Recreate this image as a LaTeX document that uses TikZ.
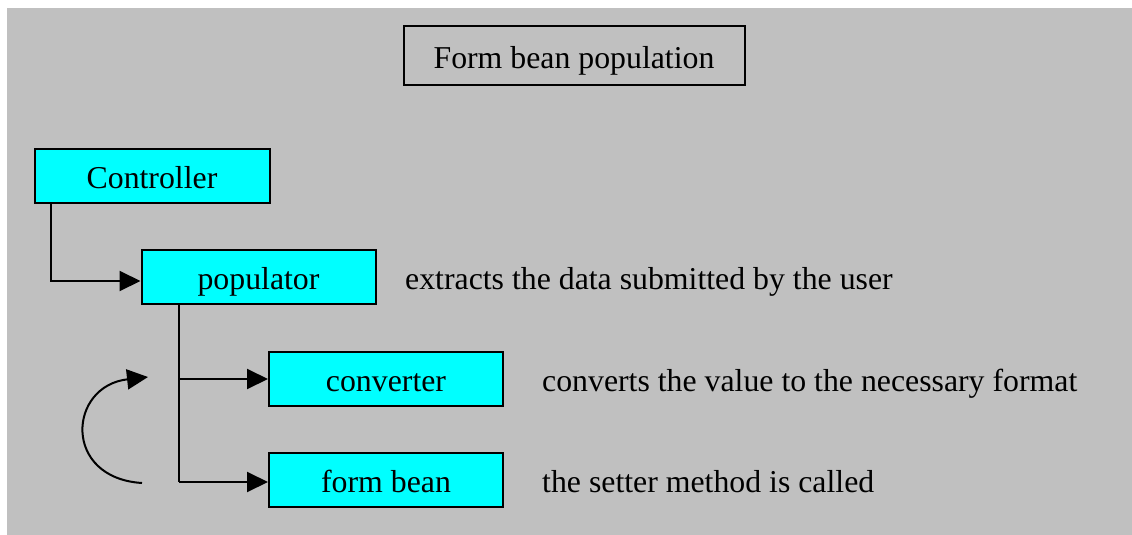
\documentclass[tikz,border=0pt]{standalone}
\usepackage{fontspec}
\setmainfont{Liberation Serif}
\usetikzlibrary{arrows.meta}
\definecolor{panelgray}{HTML}{C0C0C0}
\definecolor{boxcyan}{HTML}{00FFFF}
\begin{document}
\begin{tikzpicture}[x=1pt,y=-1pt,
  every node/.style={font=\fontsize{31.8}{38}\selectfont},
  stepbox/.style={draw=black, fill=boxcyan, line width=2pt, inner sep=0pt,
    text height=25pt, text depth=0pt, minimum width=234pt, minimum height=54pt},
  titlebox/.style={draw=black, line width=2pt, inner sep=0pt,
    text height=25pt, text depth=0pt, minimum width=341pt, minimum height=58pt},
  note/.style={anchor=base west, inner sep=0pt},
  link/.style={line width=2pt},
  flow/.style={link, -{Triangle[length=21pt,width=20pt]}}
]
\useasboundingbox (0,0) rectangle (1132,535);
% background panel
\fill[panelgray] (7,8) rectangle (1132,535);

% title
\node[titlebox] (title) at (574,55.5) {Form bean population};

% steps
\node[stepbox, minimum width=235pt] (ctrl) at (152,175.5) {Controller};
\node[stepbox] (pop) at (258.5,277) {populator};
\node[stepbox] (conv) at (386,378.5) {converter};
\node[stepbox] (fb) at (386,480) {form bean};

% notes
\node[note] (popnote) at (405,289) {extracts the data submitted by the user};
\node[note] (convnote) at (542,391) {converts the value to the necessary format};
\node[note] (fbnote) at (542,492) {the setter method is called};

% Controller -> populator
\coordinate (c1) at (51,281);
\draw[flow] (ctrl.south -| c1) -- (c1) -- (pop.west |- c1);

% populator -> converter / form bean
\coordinate (trunk) at (179,482);
\coordinate (b1) at (179,379);
\draw[link] (pop.south -| trunk) -- (trunk);
\draw[flow] (b1) -- (conv.west |- b1);
\draw[flow] (trunk) -- (fb.west |- trunk);

% repeat loop
\coordinate (loopstart) at (142,483);
\coordinate (loopend) at (148,377);
\draw[flow] (loopstart) .. controls (62,478) and (68,386) .. (loopend);
\end{tikzpicture}
\end{document}
